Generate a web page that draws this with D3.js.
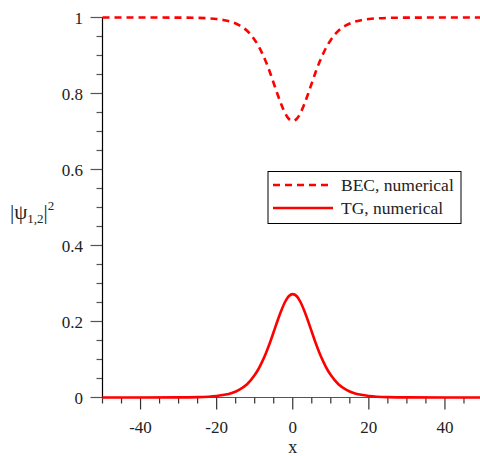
<!DOCTYPE html>
<html>
<head>
<meta charset="utf-8">
<script src="https://cdnjs.cloudflare.com/ajax/libs/d3/7.8.5/d3.min.js"></script>
<style>
  body { margin: 0; background: #fff; }
  svg { display: block; font-family: "Liberation Serif", "Times New Roman", serif; }
</style>
</head>
<body>
<div id="chart"></div>
<script>
// values
const xVals = [-50, -30, -25, -20, -18, -16, -14, -12, -10, -9, -8, -7, -6, -5, -4, -3, -2, -1, 0,
  1, 2, 3, 4, 5, 6, 7, 8, 9, 10, 12, 14, 16, 18, 20, 25, 30, 50];
const tgVals = [0, 0.0003, 0.001, 0.004, 0.007, 0.012, 0.021, 0.035, 0.059, 0.075, 0.095, 0.118, 0.144, 0.173, 0.202, 0.229, 0.252, 0.267, 0.272,
  0.267, 0.252, 0.229, 0.202, 0.173, 0.144, 0.118, 0.095, 0.075, 0.059, 0.035, 0.021, 0.012, 0.007, 0.004, 0.001, 0.0003, 0];
const becVals = [1, 0.9997, 0.999, 0.996, 0.993, 0.988, 0.979, 0.965, 0.941, 0.925, 0.905, 0.882, 0.856, 0.827, 0.798, 0.771, 0.748, 0.733, 0.728,
  0.733, 0.748, 0.771, 0.798, 0.827, 0.856, 0.882, 0.905, 0.925, 0.941, 0.965, 0.979, 0.988, 0.993, 0.996, 0.999, 0.9997, 1];

const xMajor = [-40, -20, 0, 20, 40];
const xMinor = d3.range(-50, 51, 5);
const yMajor = [0, 0.2, 0.4, 0.6, 0.8, 1];
const yMinor = d3.range(0, 1.0001, 0.05);
const legendLabels = ['BEC, numerical', 'TG, numerical'];

const width = 480, height = 456;
const red = '#ff0000';

const svg = d3.select('#chart').append('svg')
  .attr('width', width)
  .attr('height', height);

const x = d3.scaleLinear().domain([-50, 50]).range([102.5, 483]);
const y = d3.scaleLinear().domain([0, 1]).range([397.5, 17.5]);

// x axis
const xAxisG = svg.append('g');
xAxisG.append('line')
  .attr('x1', x(-50)).attr('x2', width)
  .attr('y1', y(0)).attr('y2', y(0))
  .attr('stroke', '#555').attr('stroke-width', 1.2);
xAxisG.selectAll('.xminor').data(xMinor).enter().append('line')
  .attr('x1', d => x(d)).attr('x2', d => x(d))
  .attr('y1', y(0)).attr('y2', d => y(0) + (d % 20 === 0 && d !== -50 && d !== 50 ? 12 : 6))
  .attr('stroke', '#333').attr('stroke-width', 1.2);
xAxisG.selectAll('.xlab').data(xMajor).enter().append('text')
  .attr('x', d => x(d)).attr('y', 433)
  .attr('text-anchor', 'middle')
  .attr('font-size', 17)
  .attr('fill', '#222')
  .text(d => d);
svg.append('text')
  .attr('x', x(0)).attr('y', 453)
  .attr('text-anchor', 'middle')
  .attr('font-size', 18)
  .attr('fill', '#222')
  .text('x');

// y axis
const yAxisG = svg.append('g');
yAxisG.selectAll('.yminor').data(yMinor).enter().append('line')
  .attr('x1', d => x(-50) - (Math.abs(d * 5 - Math.round(d * 5)) < 1e-6 ? 12 : 6))
  .attr('x2', x(-50))
  .attr('y1', d => y(d)).attr('y2', d => y(d))
  .attr('stroke', '#555').attr('stroke-width', 1.2);
yAxisG.append('line')
  .attr('x1', x(-50)).attr('x2', x(-50))
  .attr('y1', y(1)).attr('y2', y(0))
  .attr('stroke', '#000').attr('stroke-width', 1.2);
yAxisG.selectAll('.ylab').data(yMajor).enter().append('text')
  .attr('x', 83).attr('y', d => y(d) + 6)
  .attr('text-anchor', 'end')
  .attr('font-size', 17)
  .attr('fill', '#222')
  .text(d => d);

// y label |psi_{1,2}|^2
const yl = svg.append('text')
  .attr('x', 10).attr('y', 219)
  .attr('font-size', 21)
  .attr('fill', '#222');
yl.append('tspan').text('|ψ');
yl.append('tspan').attr('font-size', 13).attr('dy', 4).text('1,2');
yl.append('tspan').attr('dy', -4).text('|');
yl.append('tspan').attr('font-size', 13).attr('dy', -9).text('2');

// curves
const line = d3.line()
  .x((d, i) => x(xVals[i]))
  .y(d => y(d))
  .curve(d3.curveMonotoneX);

svg.append('path')
  .datum(becVals)
  .attr('d', line)
  .attr('fill', 'none')
  .attr('stroke', red)
  .attr('stroke-width', 2.6)
  .attr('stroke-dasharray', '7,5');

svg.append('path')
  .datum(tgVals)
  .attr('d', line)
  .attr('fill', 'none')
  .attr('stroke', red)
  .attr('stroke-width', 2.6);

// legend
const lg = svg.append('g');
lg.append('rect')
  .attr('x', 268).attr('y', 171.5)
  .attr('width', 193).attr('height', 52)
  .attr('fill', '#fff')
  .attr('stroke', '#000').attr('stroke-width', 1);
legendLabels.forEach((lab, i) => {
  const ly = 185 + i * 23;
  lg.append('line')
    .attr('x1', 273).attr('x2', 333)
    .attr('y1', ly).attr('y2', ly)
    .attr('stroke', red).attr('stroke-width', 2.6)
    .attr('stroke-dasharray', i === 0 ? '7,5' : null);
  lg.append('text')
    .attr('x', 341).attr('y', ly + 6)
    .attr('font-size', 17.5)
    .attr('fill', '#222')
    .text(lab);
});
</script>
</body>
</html>
